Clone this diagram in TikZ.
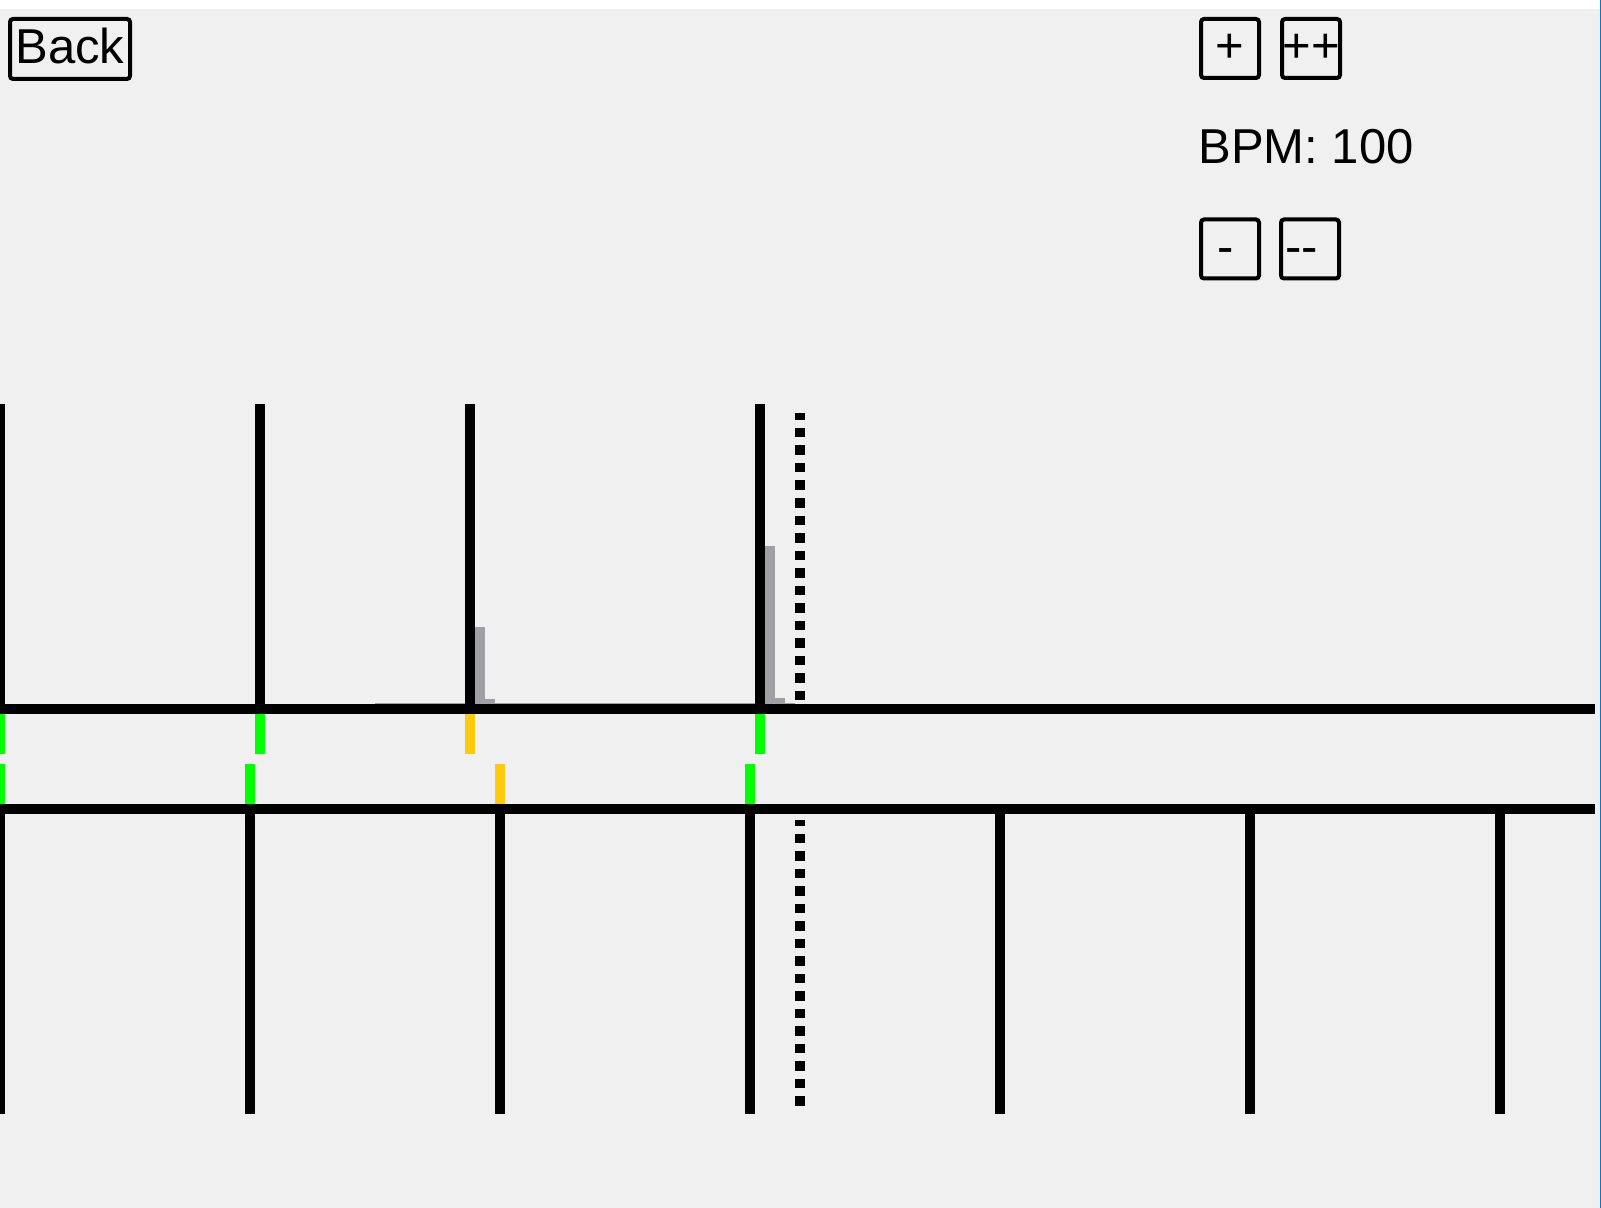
\documentclass[tikz,border=0pt]{standalone}
\usepackage{fontspec}
\setmainfont{Liberation Sans}
\usepackage{xcolor}
\usepackage{tikz}

\definecolor{panel}{HTML}{F0F0F0}
\definecolor{winblue}{HTML}{0078D7}
\definecolor{levelgrey}{HTML}{A0A0A4}
\definecolor{hitgreen}{HTML}{00FF00}
\definecolor{hityellow}{HTML}{FFC90E}

\newcommand{\uitext}{\fontsize{24.5pt}{29pt}\selectfont}

\tikzset{
  btn/.style={draw, line width=2pt, rounded corners=1.5pt, inner sep=0pt,
    minimum width=29pt, minimum height=29.5pt, text height=17.5pt, text depth=3pt,
    font=\uitext},
  bar/.style={line width=5pt}
}

\begin{document}
\begin{tikzpicture}[x=0.5pt,y=-0.5pt]
\useasboundingbox (0,0) rectangle (1601,1208);
\fill[white] (0,0) rectangle (1601,9);
\fill[panel] (0,9) rectangle (1601,1208);
\draw[line width=0.65pt,winblue] (1600.3,0) -- (1600.3,1208); % window edge

% buttons and tempo
\node[btn,minimum width=60pt,minimum height=30pt] (back) at (70,49) {Back};
\node[btn] (plus) at (1230,48.5) {+};
\node[btn] (plusplus) at (1311,48.5) {++};
\node[btn] (minus) at (1230,249) {-\kern4pt};
\node[btn] (minusminus) at (1310,249) {-\kern0pt-\kern8.5pt};
\node[anchor=base west,inner sep=0pt,font=\uitext] (bpm) at (1198,164) {BPM: 100};

% levels next to the taps
\fill[levelgrey] (375,703) rectangle (795,704);
\fill[levelgrey] (475,627) rectangle (485,703);
\fill[levelgrey] (485,699) rectangle (495,703);
\fill[levelgrey] (765,546) rectangle (775,703);
\fill[levelgrey] (775,698) rectangle (785,703);

% upper track (taps)
\foreach \x in {0,260,470,760} % edit here for the taps
\draw[bar] (\x,404) -- (\x,709);
\draw[bar] (0,709) -- (1595,709);
\foreach \x/\c in {0/hitgreen,260/hitgreen,470/hityellow,760/hitgreen}
\draw[bar,\c] (\x,714) -- (\x,754);
\draw[bar,dash pattern=on 4.75pt off 4pt,dash phase=1.25pt] (800,413) -- (800,700);

% lower track (beats)
\foreach \x/\c in {0/hitgreen,250/hitgreen,500/hityellow,750/hitgreen}
\draw[bar,\c] (\x,764) -- (\x,804);
\draw[bar] (0,809) -- (1595,809);
\foreach \x in {0,250,...,1500} % edit here for the beats
\draw[bar] (\x,809) -- (\x,1114);
\draw[bar,dash pattern=on 4.75pt off 4pt,dash phase=2pt] (800,820) -- (800,1106);
\end{tikzpicture}
\end{document}
